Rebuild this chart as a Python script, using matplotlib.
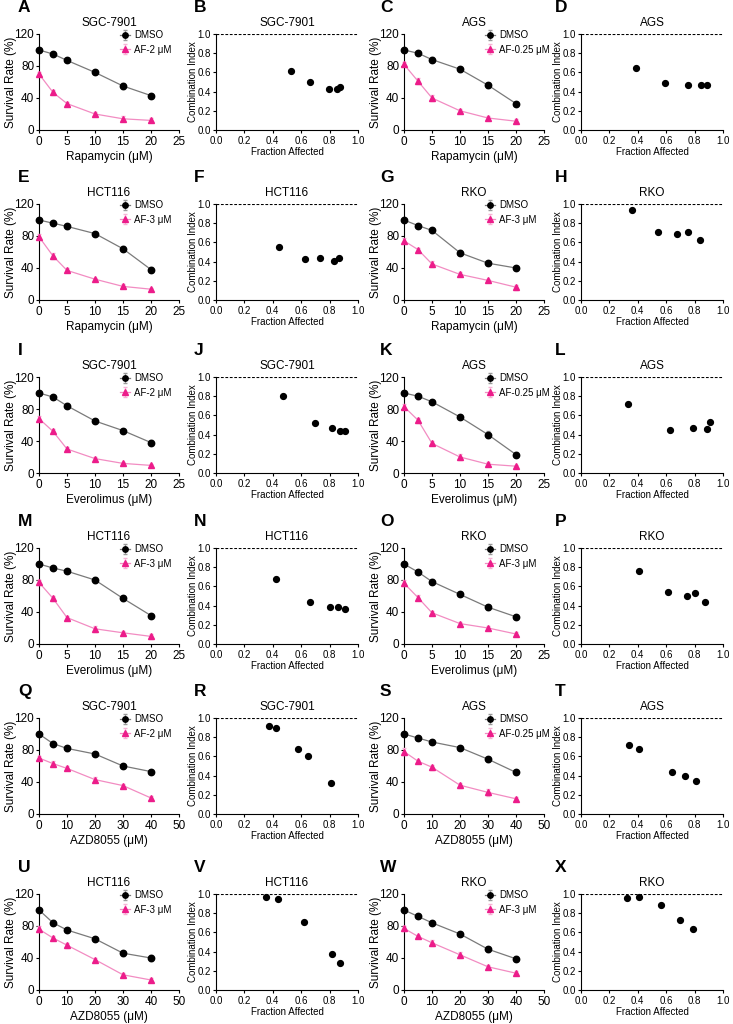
import matplotlib
matplotlib.use("Agg")
import matplotlib.pyplot as plt

plt.rcParams['font.family'] = ['Liberation Sans', 'DejaVu Sans']

# concentrations
conc_rapa = [0, 2.5, 5, 10, 15, 20]
conc_azd = [0, 5, 10, 20, 30, 40]

# survival data (mean, sd) per panel
dmso_A = [100, 95, 87, 72, 55, 43];   dmso_A_err = [2, 2, 2, 2, 4, 2.5]
af_A = [70, 47, 33, 20, 14, 12];      af_A_err = [3, 3, 2.5, 3, 3, 2.5]
dmso_C = [100, 96, 88, 76, 56, 33];   dmso_C_err = [2, 1.5, 3, 3, 3, 2]
af_C = [82, 61, 40, 24, 15, 11];      af_C_err = [2.5, 3.5, 4, 2, 2.5, 2.5]
dmso_E = [100, 96, 92, 83, 64, 38];   dmso_E_err = [2, 2, 3, 2, 3, 3]
af_E = [79, 55, 37, 26, 17, 13.5];    af_E_err = [3, 4, 2.5, 2, 2.5, 1.5]
dmso_G = [100, 93, 87, 59, 46, 40];   dmso_G_err = [1.5, 2, 3, 3, 2, 3]
af_G = [74, 63, 45, 32, 24.5, 16];    af_G_err = [3, 2, 4, 2.5, 2, 3]
dmso_I = [100, 95, 84, 65, 53, 38];   dmso_I_err = [1.5, 2, 3, 3, 2, 3]
af_I = [68, 52, 30, 18, 12, 9.5];     af_I_err = [3.5, 2.5, 3, 2.5, 2, 1.5]
dmso_K = [100, 96, 89, 70, 48, 23];   dmso_K_err = [2, 3, 2.5, 2.5, 4, 3.5]
af_K = [83, 66, 37, 20, 11, 8.5];     af_K_err = [3, 3, 2.5, 4, 2.5, 2]
dmso_M = [100, 95, 91, 80, 57, 35.5]; dmso_M_err = [1.5, 3, 2, 3.5, 3, 2]
af_M = [77, 57, 33, 19, 14, 9.5];     af_M_err = [3.5, 3.5, 2.5, 3.5, 2.5, 3]
dmso_O = [100, 90, 78, 62, 46, 34];   dmso_O_err = [1.5, 2, 3, 2, 3, 2]
af_O = [76, 58, 39, 25.5, 20, 12.5];  af_O_err = [3.5, 3, 2.5, 2.5, 2.5, 2]
dmso_Q = [100, 88, 82, 75, 60, 53];   dmso_Q_err = [1.5, 3, 3, 3, 3, 2]
af_Q = [70, 63, 57, 43, 35.5, 20];    af_Q_err = [3, 3, 2.5, 3, 2, 2.5]
dmso_S = [100, 95, 90, 83, 68.5, 52]; dmso_S_err = [1.5, 2, 2.5, 2.5, 3, 2]
af_S = [78, 66, 58.5, 36, 27, 19];    af_S_err = [4, 2, 3, 3, 4, 2]
dmso_U = [100, 84, 75, 64, 46, 40];   dmso_U_err = [1.5, 3, 2, 2.5, 3, 3.5]
af_U = [76, 65, 56, 38, 19, 12.5];    af_U_err = [3.5, 2.5, 3, 2.5, 2, 3]
dmso_W = [100, 92, 84, 70, 51, 39];   dmso_W_err = [1.5, 2, 2.5, 2, 3, 3]
af_W = [77, 67, 59, 44, 29, 21];      af_W_err = [3.5, 2, 3.5, 4, 2, 2.5]

# combination index data (fraction affected, CI)
fa_B = [0.525, 0.665, 0.795, 0.85, 0.875];  ci_B = [0.615, 0.495, 0.43, 0.425, 0.445]
fa_D = [0.385, 0.595, 0.755, 0.845, 0.89];  ci_D = [0.645, 0.485, 0.47, 0.465, 0.465]
fa_F = [0.445, 0.625, 0.735, 0.83, 0.865];  ci_F = [0.555, 0.425, 0.44, 0.41, 0.435]
fa_H = [0.36, 0.54, 0.675, 0.755, 0.835];   ci_H = [0.935, 0.71, 0.69, 0.705, 0.62]
fa_J = [0.47, 0.70, 0.815, 0.875, 0.905];   ci_J = [0.80, 0.52, 0.47, 0.435, 0.44]
fa_L = [0.33, 0.63, 0.79, 0.885, 0.905];    ci_L = [0.715, 0.45, 0.47, 0.46, 0.53]
fa_N = [0.425, 0.665, 0.805, 0.86, 0.905];  ci_N = [0.68, 0.435, 0.385, 0.39, 0.365]
fa_P = [0.41, 0.61, 0.745, 0.80, 0.875];    ci_P = [0.765, 0.54, 0.505, 0.53, 0.44]
fa_R = [0.37, 0.425, 0.575, 0.645, 0.81];   ci_R = [0.92, 0.90, 0.675, 0.605, 0.32]
fa_T = [0.34, 0.41, 0.64, 0.73, 0.81];      ci_T = [0.72, 0.68, 0.435, 0.40, 0.345]
fa_V = [0.355, 0.44, 0.62, 0.815, 0.875];   ci_V = [0.97, 0.95, 0.71, 0.375, 0.285]
fa_X = [0.325, 0.405, 0.56, 0.70, 0.79];    ci_X = [0.955, 0.965, 0.885, 0.73, 0.64]

cell_lines = ['SGC-7901', 'AGS', 'HCT116', 'RKO']
af_doses = ['AF-2 μM', 'AF-0.25 μM', 'AF-3 μM', 'AF-3 μM']
drugs = ['Rapamycin', 'Everolimus', 'AZD8055']

survival_panels = [
    ('A', dmso_A, dmso_A_err, af_A, af_A_err), ('C', dmso_C, dmso_C_err, af_C, af_C_err),
    ('E', dmso_E, dmso_E_err, af_E, af_E_err), ('G', dmso_G, dmso_G_err, af_G, af_G_err),
    ('I', dmso_I, dmso_I_err, af_I, af_I_err), ('K', dmso_K, dmso_K_err, af_K, af_K_err),
    ('M', dmso_M, dmso_M_err, af_M, af_M_err), ('O', dmso_O, dmso_O_err, af_O, af_O_err),
    ('Q', dmso_Q, dmso_Q_err, af_Q, af_Q_err), ('S', dmso_S, dmso_S_err, af_S, af_S_err),
    ('U', dmso_U, dmso_U_err, af_U, af_U_err), ('W', dmso_W, dmso_W_err, af_W, af_W_err),
]
ci_panels = [
    ('B', fa_B, ci_B), ('D', fa_D, ci_D), ('F', fa_F, ci_F), ('H', fa_H, ci_H),
    ('J', fa_J, ci_J), ('L', fa_L, ci_L), ('N', fa_N, ci_N), ('P', fa_P, ci_P),
    ('R', fa_R, ci_R), ('T', fa_T, ci_T), ('V', fa_V, ci_V), ('X', fa_X, ci_X),
]

W, H = 733, 1024
fig = plt.figure(figsize=(W / 100, H / 100), dpi=100)

# layout in pixels
row_tops = [34, 204, 377, 548, 718, 894]
ax_h = 96
surv_lefts = [39, 404]
ci_lefts = [216, 581]
letter_x = {('s', 0): 18, ('c', 0): 194, ('s', 1): 380, ('c', 1): 555}

PINK = '#EC1C8A'
PINK_LINE = '#F28CC2'
GRAY_LINE = '#7a7a7a'


def add_ax(left, top, w, h):
    return fig.add_axes([left / W, 1 - (top + h) / H, w / W, h / H])


def style(ax, fs):
    for s in ['top', 'right']:
        ax.spines[s].set_visible(False)
    for s in ['left', 'bottom']:
        ax.spines[s].set_linewidth(0.8)
    ax.tick_params(axis='y', direction='out', length=2.5, width=0.8, labelsize=fs, pad=1)
    ax.tick_params(axis='x', direction='out', length=2.5, width=0.8, labelsize=fs, pad=1.5)


def panel_letter(letter, left, top):
    fig.text(left / W, 1 - (top - 19) / H, letter, fontsize=12.5, fontweight='bold',
             va='bottom', ha='left')


for i, (letter, dm, dm_err, af, af_err) in enumerate(survival_panels):
    r, c = i // 2, i % 2
    pair = (r % 2) * 2 + c
    drug = drugs[r // 2]
    conc = conc_azd if drug == 'AZD8055' else conc_rapa
    ax = add_ax(surv_lefts[c], row_tops[r], 140, ax_h)
    style(ax, 8.5)
    ax.errorbar(conc, dm, yerr=dm_err, color=GRAY_LINE, ecolor='#9a9a9a', elinewidth=0.8,
                capsize=1.5, lw=0.9, marker='o', ms=4.6, mfc='black', mec='black',
                label='DMSO', clip_on=False, zorder=3)
    ax.errorbar(conc, af, yerr=af_err, color=PINK_LINE, ecolor='#F6B3D6', elinewidth=0.8,
                capsize=1.5, lw=0.9, marker='^', ms=4.6, mfc=PINK, mec=PINK,
                label=af_doses[pair], clip_on=False, zorder=3)
    ax.set_ylim(0, 120)
    ax.set_yticks([0, 40, 80, 120])
    xmax = 50 if drug == 'AZD8055' else 25
    ax.set_xlim(0, xmax)
    ax.set_xticks(range(0, xmax + 1, 10 if drug == 'AZD8055' else 5))
    ax.set_ylabel('Survival Rate (%)', fontsize=8.5, va='center')
    ax.yaxis.set_label_coords(-0.2, 0.5)
    ax.set_xlabel(f'{drug} (μM)', fontsize=8.5, va='center')
    ax.xaxis.set_label_coords(0.5, -0.28)
    ax.set_title(cell_lines[pair], fontsize=8.5, pad=6)
    ax.legend(loc='upper left', bbox_to_anchor=(0.58, 1.04), frameon=False, fontsize=7,
              handlelength=1.0, handletextpad=0.4, labelspacing=0.45, borderaxespad=0,
              borderpad=0, markerscale=0.85)
    panel_letter(letter, letter_x[('s', c)], row_tops[r])

for i, (letter, fa, ci) in enumerate(ci_panels):
    r, c = i // 2, i % 2
    pair = (r % 2) * 2 + c
    ax = add_ax(ci_lefts[c], row_tops[r], 142, ax_h)
    style(ax, 7)
    ax.axhline(1.0, color='black', lw=0.8, ls=(0, (2.5, 1.5)), zorder=1)
    ax.plot(fa, ci, 'o', color='black', ms=4.2, zorder=3, clip_on=False)
    ax.set_xlim(0, 1.0)
    ax.set_ylim(0, 1.0)
    ticks = [0.0, 0.2, 0.4, 0.6, 0.8, 1.0]
    ax.set_xticks(ticks)
    ax.set_yticks(ticks)
    ax.set_xticklabels([f'{t:.1f}' for t in ticks])
    ax.set_yticklabels([f'{t:.1f}' for t in ticks])
    ax.set_ylabel('Combination Index', fontsize=7, va='center')
    ax.yaxis.set_label_coords(-0.165, 0.5)
    ax.set_xlabel('Fraction Affected', fontsize=7, va='center')
    ax.xaxis.set_label_coords(0.5, -0.23)
    ax.set_title(cell_lines[pair], fontsize=8.5, pad=6)
    panel_letter(letter, letter_x[('c', c)], row_tops[r])

fig.savefig('out.png', dpi=100)
